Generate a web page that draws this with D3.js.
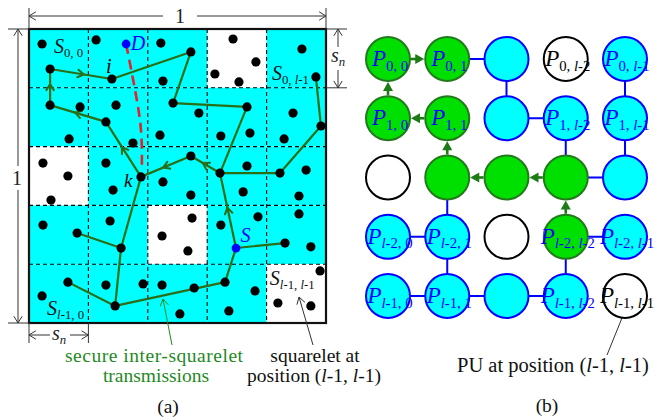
<!DOCTYPE html>
<html>
<head>
<meta charset="utf-8">
<script src="https://cdn.jsdelivr.net/npm/d3@7"></script>
<style>
body { margin: 0; background: #fff; }
svg { display: block; font-family: 'Liberation Serif', 'Times New Roman', 'DejaVu Serif', serif; }
</style>
</head>
<body>
<script>
const WIDTH = 661
const HEIGHT = 420

// (a) squarelets: l x l grid, white = not accessible
const GRID_N = 5
const whiteCells = [[0, 3], [2, 0], [3, 2], [4, 4]] // [row, col]

// nodes, unit square coords [x, y]
const nodes = [
  [0.044, 0.051], [0.226, 0.037], [0.444, 0.048], [0.545, 0.078], [0.687, 0.034], [0.764, 0.112],
  [0.626, 0.153], [0.707, 0.180], [0.919, 0.068], [0.966, 0.163], [0.071, 0.136], [0.279, 0.170],
  [0.451, 0.177],
  [0.071, 0.259], [0.172, 0.265], [0.293, 0.259], [0.259, 0.316], [0.135, 0.374], [0.350, 0.388],
  [0.485, 0.252], [0.572, 0.286], [0.734, 0.265], [0.441, 0.361], [0.646, 0.364], [0.744, 0.354],
  [0.889, 0.286], [0.983, 0.330], [0.859, 0.374],
  [0.047, 0.456], [0.131, 0.500], [0.074, 0.582], [0.259, 0.456], [0.377, 0.503], [0.283, 0.548],
  [0.545, 0.432], [0.451, 0.520], [0.545, 0.565], [0.643, 0.490], [0.734, 0.466], [0.721, 0.554],
  [0.845, 0.490], [0.933, 0.480], [0.909, 0.568],
  [0.047, 0.667], [0.162, 0.694], [0.273, 0.653], [0.310, 0.745], [0.549, 0.643], [0.448, 0.704],
  [0.535, 0.755], [0.646, 0.667], [0.771, 0.639], [0.909, 0.629], [0.862, 0.728], [0.949, 0.741],
  [0.131, 0.861], [0.259, 0.871], [0.384, 0.867], [0.448, 0.871], [0.556, 0.881], [0.660, 0.861],
  [0.761, 0.891], [0.044, 0.908], [0.290, 0.942], [0.508, 0.969], [0.673, 0.959], [0.838, 0.932],
  [0.949, 0.942], [0.980, 0.823]
]
const sourceNode = [0.697, 0.745]
const destNode = [0.327, 0.051]

// relay edges [from, to, hasArrow]
const relayEdges = [
  [[0.071, 0.136], [0.279, 0.170], true],
  [[0.279, 0.170], [0.545, 0.078], false],
  [[0.545, 0.078], [0.485, 0.252], false],
  [[0.485, 0.252], [0.734, 0.265], false],
  [[0.734, 0.265], [0.643, 0.490], false],
  [[0.071, 0.259], [0.071, 0.136], true],
  [[0.259, 0.316], [0.071, 0.259], true],
  [[0.377, 0.503], [0.259, 0.316], true],
  [[0.545, 0.432], [0.377, 0.503], true],
  [[0.643, 0.490], [0.545, 0.432], true],
  [[0.845, 0.490], [0.643, 0.490], false],
  [[0.983, 0.330], [0.845, 0.490], false],
  [[0.966, 0.163], [0.983, 0.330], false],
  [[0.697, 0.745], [0.643, 0.490], true],
  [[0.697, 0.745], [0.862, 0.728], false],
  [[0.697, 0.745], [0.660, 0.861], false],
  [[0.660, 0.861], [0.290, 0.942], false],
  [[0.131, 0.861], [0.290, 0.942], false],
  [[0.290, 0.942], [0.310, 0.745], false],
  [[0.310, 0.745], [0.162, 0.694], false],
  [[0.310, 0.745], [0.377, 0.503], false]
]
// straight-line D -> k
const directPath = [[0.327, 0.051], [0.357, 0.207], [0.377, 0.344], [0.380, 0.480]]

// (b) PU grid: g = green, c = cyan, w = white
const puState = [
  ['g', 'g', 'c', 'w', 'c'],
  ['g', 'g', 'c', 'c', 'c'],
  ['w', 'g', 'g', 'g', 'c'],
  ['c', 'c', 'w', 'g', 'c'],
  ['c', 'c', 'c', 'c', 'w']
]
const puLabels = [
  [0, 0, '0, 0'], [0, 1, '0, 1'], [0, 3, '0, l-2'], [0, 4, '0, l-1'],
  [1, 0, '1, 0'], [1, 1, '1, 1'], [1, 3, '1, l-2'], [1, 4, '1, l-1'],
  [3, 0, 'l-2, 0'], [3, 1, 'l-2, 1'], [3, 3, 'l-2, l-2'], [3, 4, 'l-2, l-1'],
  [4, 0, 'l-1, 0'], [4, 1, 'l-1, 1'], [4, 3, 'l-1, l-2'], [4, 4, 'l-1, l-1']
]
const blueLinks = [
  [[0, 1], [0, 2]], [[0, 2], [1, 2]], [[1, 2], [1, 3]], [[0, 4], [1, 4]],
  [[1, 3], [2, 3]], [[1, 4], [2, 4]], [[2, 3], [2, 4]], [[2, 1], [3, 1]],
  [[3, 0], [3, 1]], [[3, 3], [3, 4]], [[3, 1], [4, 1]], [[3, 3], [4, 3]],
  [[4, 0], [4, 1]], [[4, 1], [4, 2]], [[4, 2], [4, 3]]
]
const greenArrows = [ // [row, col] from -> to
  [[0, 0], [0, 1]], [[1, 0], [0, 0]], [[1, 1], [1, 0]], [[2, 1], [1, 1]],
  [[2, 2], [2, 1]], [[2, 3], [2, 2]], [[3, 3], [2, 3]]
]

const CYAN = '#00ffff'
const PATH_GREEN = '#2b6e16'
const TEXT_GREEN = '#1f8a1f'
const BLUE = '#0000ff'

const svg = d3.select('body')
  .append('svg')
  .attr('width', WIDTH)
  .attr('height', HEIGHT)
  .attr('font-family', "'Liberation Serif', 'Times New Roman', serif")

const xL = d3.scaleLinear().domain([0, 1]).range([29, 326])
const yL = d3.scaleLinear().domain([0, 1]).range([29, 323])
const xR = d3.scaleLinear().domain([0, GRID_N - 1]).range([388, 625])
const yR = d3.scaleLinear().domain([0, GRID_N - 1]).range([59, 296])

// label with italic main letter and a subscript (l is italic)
function subLabel(g, x, y, main, sub, size, color, anchor) {
  const t = g.append('text')
    .attr('x', x).attr('y', y)
    .attr('fill', color)
    .attr('font-size', size)
    .attr('text-anchor', anchor || 'start')
  t.append('tspan').attr('font-style', 'italic').text(main)
  sub.split(/(l|n)/).filter(s => s).forEach((part, i) => {
    const ts = t.append('tspan')
      .attr('font-size', size * 0.64)
      .attr('font-style', part === 'l' || part === 'n' ? 'italic' : 'normal')
      .text(part)
    if (i === 0) ts.attr('dy', size * 0.2)
  })
  return t
}

function chevron(g, x, y, ang, size, color, width) {
  const a1 = ang + Math.PI - 0.55
  const a2 = ang + Math.PI + 0.55
  g.append('path')
    .attr('d', `M${x + size * Math.cos(a1)},${y + size * Math.sin(a1)}L${x},${y}L${x + size * Math.cos(a2)},${y + size * Math.sin(a2)}`)
    .attr('fill', 'none')
    .attr('stroke', color)
    .attr('stroke-width', width)
}

// ---------- (a) ----------
const left = svg.append('g')
const step = 1 / GRID_N

const cells = d3.cross(d3.range(GRID_N), d3.range(GRID_N))
left.selectAll('rect.cell')
  .data(cells)
  .enter()
  .append('rect')
  .attr('x', d => xL(d[1] * step))
  .attr('y', d => yL(d[0] * step))
  .attr('width', xL(step) - xL(0))
  .attr('height', yL(step) - yL(0))
  .attr('fill', d => whiteCells.some(w => w[0] === d[0] && w[1] === d[1]) ? '#fff' : CYAN)

const inner = d3.range(1, GRID_N).map(i => i * step)
left.selectAll('line.v')
  .data(inner)
  .enter()
  .append('line')
  .attr('x1', d => xL(d)).attr('x2', d => xL(d))
  .attr('y1', yL(0)).attr('y2', yL(1))
  .attr('stroke', '#000').attr('stroke-width', 1.1).attr('stroke-dasharray', '4,3')
left.selectAll('line.h')
  .data(inner)
  .enter()
  .append('line')
  .attr('y1', d => yL(d)).attr('y2', d => yL(d))
  .attr('x1', xL(0)).attr('x2', xL(1))
  .attr('stroke', '#000').attr('stroke-width', 1.1).attr('stroke-dasharray', '4,3')

left.append('rect')
  .attr('x', xL(0)).attr('y', yL(0))
  .attr('width', xL(1) - xL(0)).attr('height', yL(1) - yL(0))
  .attr('fill', 'none').attr('stroke', '#111').attr('stroke-width', 2.2)

// red dashed direct line
left.append('path')
  .attr('d', d3.line().x(d => xL(d[0])).y(d => yL(d[1])).curve(d3.curveNatural)(directPath))
  .attr('fill', 'none')
  .attr('stroke', '#e8202a')
  .attr('stroke-width', 2.6)
  .attr('stroke-dasharray', '10,6')

// relay edges
left.selectAll('line.edge')
  .data(relayEdges)
  .enter()
  .append('line')
  .attr('x1', d => xL(d[0][0])).attr('y1', d => yL(d[0][1]))
  .attr('x2', d => xL(d[1][0])).attr('y2', d => yL(d[1][1]))
  .attr('stroke', PATH_GREEN).attr('stroke-width', 2.2)

relayEdges.filter(d => d[2]).forEach(d => {
  const x1 = xL(d[0][0]), y1 = yL(d[0][1]), x2 = xL(d[1][0]), y2 = yL(d[1][1])
  const ang = Math.atan2(y2 - y1, x2 - x1)
  chevron(left, (x1 + x2) / 2 + 3 * Math.cos(ang), (y1 + y2) / 2 + 3 * Math.sin(ang), ang, 8, PATH_GREEN, 2)
})

left.selectAll('circle.node')
  .data(nodes)
  .enter()
  .append('circle')
  .attr('cx', d => xL(d[0])).attr('cy', d => yL(d[1]))
  .attr('r', 4.6)
  .attr('fill', '#000')

left.selectAll('circle.sd')
  .data([sourceNode, destNode])
  .enter()
  .append('circle')
  .attr('cx', d => xL(d[0])).attr('cy', d => yL(d[1]))
  .attr('r', 4.4)
  .attr('fill', BLUE)

// squarelet labels
subLabel(left, xL(0.084), yL(0.082), 'S', '0, 0', 20, '#111')
subLabel(left, xL(0.818), yL(0.173), 'S', '0, l-1', 20, '#111')
subLabel(left, xL(0.061), yL(0.973), 'S', 'l-1, 0', 20, '#111')
subLabel(left, xL(0.811), yL(0.871), 'S', 'l-1, l-1', 20, '#111')
left.append('text').attr('x', xL(0.259)).attr('y', yL(0.150))
  .attr('font-size', 20).attr('font-style', 'italic').text('i')
left.append('text').attr('x', xL(0.320)).attr('y', yL(0.537))
  .attr('font-size', 19).attr('font-style', 'italic').text('k')
left.append('text').attr('x', xL(0.343)).attr('y', yL(0.071))
  .attr('font-size', 20).attr('font-style', 'italic').attr('fill', BLUE).text('D')
left.append('text').attr('x', xL(0.712)).attr('y', yL(0.724))
  .attr('font-size', 20).attr('font-style', 'italic').attr('fill', BLUE).text('S')

// dimension marks
const dim = svg.append('g').attr('stroke', '#333').attr('stroke-width', 1).attr('fill', 'none')
function seg(x1, y1, x2, y2, color) {
  dim.append('line').attr('x1', x1).attr('y1', y1).attr('x2', x2).attr('y2', y2)
    .attr('stroke', color || '#333')
}
function openHead(x, y, ang, color) {
  chevron(dim, x, y, ang, 8, color || '#333', 1)
}
// top "1"
seg(xL(0), 16, 163, 16); seg(197, 16, xL(1), 16)
openHead(xL(0), 16, Math.PI); openHead(xL(1), 16, 0)
seg(xL(0), 8, xL(0), yL(0)); seg(xL(1), 8, xL(1), yL(0))
// left "1"
seg(18, yL(0), 18, 166); seg(18, 190, 18, yL(1))
openHead(18, yL(0), -Math.PI / 2); openHead(18, yL(1), Math.PI / 2)
seg(8, yL(0), xL(0), yL(0)); seg(8, yL(1), xL(0), yL(1))
// right s_n
seg(338, yL(0), 338, 47); seg(338, 70, 338, yL(step))
openHead(338, yL(0), -Math.PI / 2); openHead(338, yL(step), Math.PI / 2)
seg(xL(1), yL(0), 347, yL(0)); seg(xL(1), yL(step), 347, yL(step))
// bottom s_n
seg(xL(0), 335, 50, 335); seg(70, 335, xL(step), 335)
openHead(xL(0), 335, Math.PI); openHead(xL(step), 335, 0)
seg(xL(0), yL(1), xL(0), 343); seg(xL(step), yL(1), xL(step), 343)

svg.append('text').attr('x', 180).attr('y', 23).attr('text-anchor', 'middle')
  .attr('font-size', 20).attr('fill', '#222').text('1')
svg.append('text').attr('x', 17).attr('y', 185).attr('text-anchor', 'middle')
  .attr('font-size', 20).attr('fill', '#222').text('1')
subLabel(svg, 331, 62, 's', 'n', 20, '#222')
subLabel(svg, 52, 340, 's', 'n', 20, '#222')

// annotations (a)
const ann = svg.append('g').attr('font-size', 19.5)
ann.append('text').attr('x', 154).attr('y', 362).attr('text-anchor', 'middle')
  .attr('fill', TEXT_GREEN).attr('textLength', 178).text('secure inter-squarelet')
ann.append('text').attr('x', 156).attr('y', 382).attr('text-anchor', 'middle')
  .attr('fill', TEXT_GREEN).text('transmissions')
seg(172, 345, 163, 299, TEXT_GREEN)
openHead(163, 299, Math.atan2(299 - 345, 163 - 172), TEXT_GREEN)
ann.append('text').attr('x', 315).attr('y', 362).attr('text-anchor', 'middle')
  .attr('fill', '#111').text('squarelet at')
const pos = ann.append('text').attr('x', 314).attr('y', 382).attr('text-anchor', 'middle').attr('fill', '#111')
pos.append('tspan').text('position (')
pos.append('tspan').attr('font-style', 'italic').text('l')
pos.append('tspan').text('-1, ')
pos.append('tspan').attr('font-style', 'italic').text('l')
pos.append('tspan').text('-1)')
seg(313, 345, 299, 297)
openHead(299, 297, Math.atan2(297 - 345, 299 - 313))
ann.append('text').attr('x', 168).attr('y', 413).attr('text-anchor', 'middle')
  .attr('fill', '#111').text('(a)')

// ---------- (b) ----------
const right = svg.append('g')
const R = 22

right.selectAll('line.link')
  .data(blueLinks)
  .enter()
  .append('line')
  .attr('x1', d => xR(d[0][1])).attr('y1', d => yR(d[0][0]))
  .attr('x2', d => xR(d[1][1])).attr('y2', d => yR(d[1][0]))
  .attr('stroke', BLUE).attr('stroke-width', 2)

const puCells = cells.map(d => ({ row: d[0], col: d[1], state: puState[d[0]][d[1]] }))
right.selectAll('circle.pu')
  .data(puCells)
  .enter()
  .append('circle')
  .attr('cx', d => xR(d.col)).attr('cy', d => yR(d.row))
  .attr('r', R)
  .attr('fill', d => d.state === 'g' ? '#00e000' : d.state === 'c' ? CYAN : '#fff')
  .attr('stroke', d => d.state === 'g' ? '#237a1c' : d.state === 'c' ? BLUE : '#000')
  .attr('stroke-width', 2)

greenArrows.forEach(d => {
  const x1 = xR(d[0][1]), y1 = yR(d[0][0]), x2 = xR(d[1][1]), y2 = yR(d[1][0])
  const ang = Math.atan2(y2 - y1, x2 - x1)
  const sx = x1 + (R + 1) * Math.cos(ang), sy = y1 + (R + 1) * Math.sin(ang)
  const tx = x2 - (R + 1) * Math.cos(ang), ty = y2 - (R + 1) * Math.sin(ang)
  right.append('line')
    .attr('x1', sx).attr('y1', sy)
    .attr('x2', tx - 6 * Math.cos(ang)).attr('y2', ty - 6 * Math.sin(ang))
    .attr('stroke', '#1d7a14').attr('stroke-width', 2.6)
  const bx = tx - 9 * Math.cos(ang), by = ty - 9 * Math.sin(ang)
  const px = -Math.sin(ang) * 5, py = Math.cos(ang) * 5
  right.append('path')
    .attr('d', `M${tx},${ty}L${bx + px},${by + py}L${bx - px},${by - py}Z`)
    .attr('fill', '#1d7a14')
})

puLabels.forEach(d => {
  const color = puState[d[0]][d[1]] === 'w' ? '#000' : BLUE
  subLabel(right, xR(d[1]) + 2, yR(d[0]) + 7, 'P', d[2], 23, color, 'middle')
})

const pu = ann.append('text').attr('x', 457).attr('y', 372).attr('fill', '#111')
  .attr('font-size', 20.5)
pu.append('tspan').text('PU at position (')
pu.append('tspan').attr('font-style', 'italic').text('l')
pu.append('tspan').text('-1, ')
pu.append('tspan').attr('font-style', 'italic').text('l')
pu.append('tspan').text('-1)')
seg(607, 355, 626, 308)
openHead(626, 308, Math.atan2(308 - 355, 626 - 607))
ann.append('text').attr('x', 547).attr('y', 412).attr('text-anchor', 'middle')
  .attr('fill', '#111').text('(b)')
</script>
</body>
</html>
